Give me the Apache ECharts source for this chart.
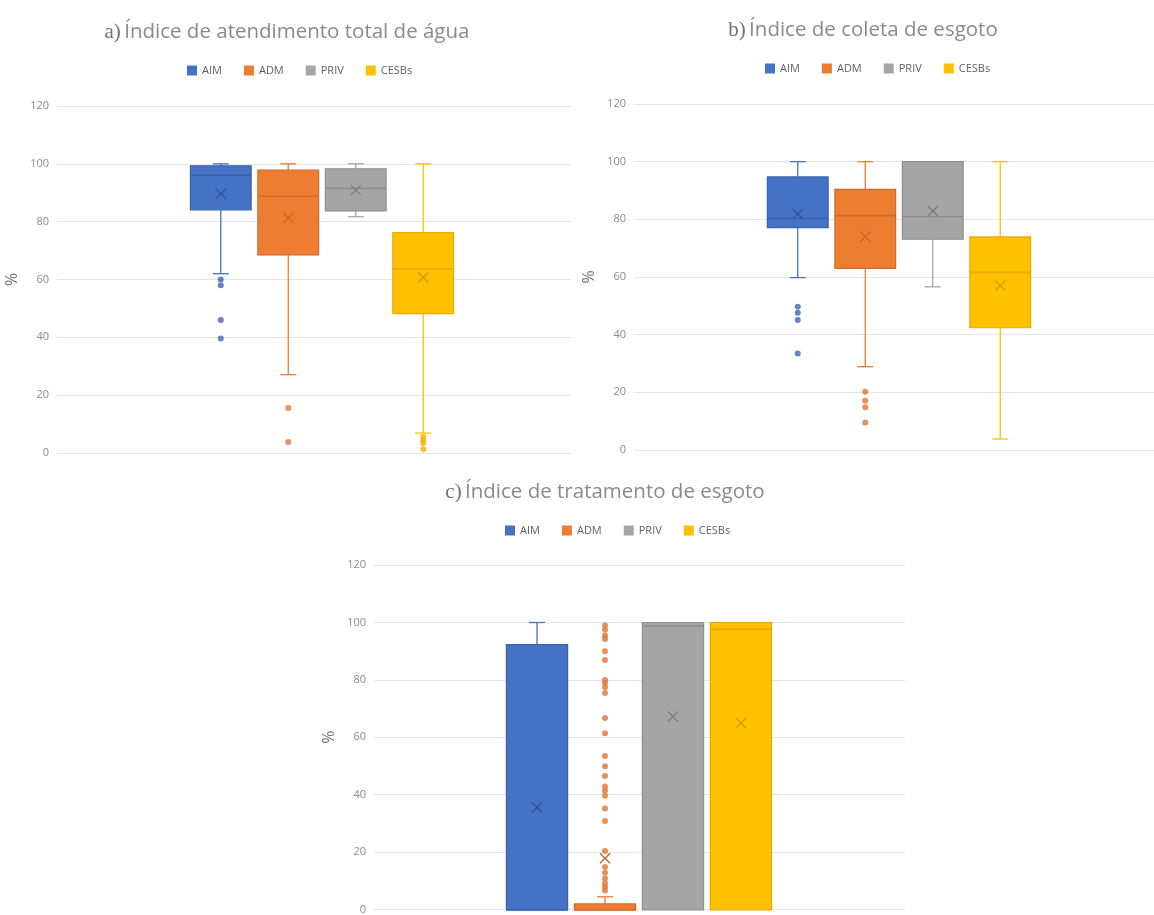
<!DOCTYPE html>
<html>
<head>
<meta charset="utf-8">
<script src="https://cdn.jsdelivr.net/npm/echarts@6/dist/echarts.min.js"></script>
<style>
  html, body { margin: 0; padding: 0; background: #ffffff; }
  #chart { width: 1154px; height: 915px; }
</style>
</head>
<body>
<div id="chart"></div>
<script>
// Operator groups shown in every panel
const categories = ['AIM', 'ADM', 'PRIV', 'CESBs'];
// Value axis ticks (%)
const yTicks = [0, 20, 40, 60, 80, 100, 120];

// a) Índice de atendimento total de água — [min, Q1, mediana, Q3, max]
const aguaBox = [
  [62.0, 84.1, 96.0, 99.3, 100],
  [27.1, 68.5, 88.8, 97.8, 100],
  [81.7, 83.7, 91.5, 98.3, 100],
  [6.9, 48.2, 63.7, 76.2, 100]
];
const aguaMean = [89.6, 81.3, 90.9, 60.7];
const aguaOutliers = [
  [60.0, 58.0, 46.0, 39.6],
  [15.6, 3.8],
  [],
  [5.6, 4.5, 3.4, 1.3]
];

// b) Índice de coleta de esgoto
const coletaBox = [
  [59.8, 77.1, 80.3, 94.7, 100],
  [28.9, 63.0, 81.3, 90.4, 100],
  [56.6, 73.1, 80.9, 100, 100],
  [3.8, 42.4, 61.6, 73.9, 100]
];
const coletaMean = [81.8, 74.0, 82.9, 57.0];
const coletaOutliers = [
  [49.7, 47.6, 45.1, 33.5],
  [20.2, 17.1, 14.8, 9.5],
  [],
  []
];

// c) Índice de tratamento de esgoto
const tratamentoBox = [
  [0, 0, 0, 92.3, 100],
  [0, 0, 0, 2.1, 4.6],
  [0, 0, 98.8, 100, 100],
  [0, 0, 97.6, 100, 100]
];
const tratamentoMean = [35.7, 18.0, 67.3, 65.0];
const tratamentoOutliers = [
  [],
  [99.0, 97.5, 95.5, 94.3, 90.0, 87.0, 80.0, 79.0, 77.5, 75.5, 66.8, 61.5, 53.6, 50.0,
   46.6, 43.0, 41.5, 39.7, 35.3, 31.0, 20.5, 15.0, 13.0, 11.0, 9.3, 8.0, 6.8],
  [],
  []
];

// Styling per group
const FILL = ['#4472C4', '#ED7D31', '#A5A5A5', '#FFC000'];
const EDGE = ['#3A63AC', '#D2692A', '#8E8E8E', '#E3AA00'];
const MEAN_MARK = ['#34508A', '#C0642C', '#7C7C7C', '#CC9A00'];
const DOT = ['#3F66B0', '#DF7432', '#999999', '#F0B400'];

const panels = [
  {
    box: aguaBox, mean: aguaMean, out: aguaOutliers,
    tag: 'a)', title: 'Índice de atendimento total de água', titleX: 287, titleY: 32,
    legendLeft: 187, legendTop: 65,
    plot: { left: 57, top: 106, width: 514, height: 347 },
    boxes: { left: 187, width: 270 }
  },
  {
    box: coletaBox, mean: coletaMean, out: coletaOutliers,
    tag: 'b)', title: 'Índice de coleta de esgoto', titleX: 863, titleY: 30,
    legendLeft: 765, legendTop: 63,
    plot: { left: 634, top: 104, width: 540, height: 346 },
    boxes: { left: 764, width: 270 }
  },
  {
    box: tratamentoBox, mean: tratamentoMean, out: tratamentoOutliers,
    tag: 'c)', title: 'Índice de tratamento de esgoto', titleX: 605, titleY: 492,
    legendLeft: 505, legendTop: 525,
    plot: { left: 374, top: 565, width: 531, height: 345 },
    boxes: { left: 503, width: 272 }
  }
];

const BOX_RATIO = 0.9;   // box width as a share of the category band
const CAP_HALF = 8;      // half width of whisker caps (px)
const MEAN_HALF = 5;     // half size of the mean cross (px)

function boxRenderer(ci) {
  return function (params, api) {
    const idx = api.value(0);
    const v = [1, 2, 3, 4, 5].map(function (d) { return api.value(d); });
    const mean = api.value(6);
    const band = api.size([1, 0])[0];
    const half = band * BOX_RATIO / 2;
    const pts = v.map(function (val) { return api.coord([idx, val]); });
    const cx = pts[0][0];
    const y = pts.map(function (p) { return p[1]; });
    const ym = api.coord([idx, mean])[1];
    const line = function (x1, y1, x2, y2, stroke, w) {
      return { type: 'line', shape: { x1: x1, y1: y1, x2: x2, y2: y2 }, style: { stroke: stroke, lineWidth: w } };
    };
    const kids = [];
    if (v[4] > v[3]) {
      kids.push(line(cx, y[4], cx, y[3], FILL[ci], 1.3));
      kids.push(line(cx - CAP_HALF, y[4], cx + CAP_HALF, y[4], FILL[ci], 1.3));
    }
    if (v[1] > v[0]) {
      kids.push(line(cx, y[1], cx, y[0], FILL[ci], 1.3));
      kids.push(line(cx - CAP_HALF, y[0], cx + CAP_HALF, y[0], FILL[ci], 1.3));
    }
    kids.push({
      type: 'rect',
      shape: { x: cx - half, y: y[3], width: half * 2, height: y[1] - y[3] },
      style: { fill: FILL[ci], stroke: EDGE[ci], lineWidth: 1.2 }
    });
    kids.push(line(cx - half, y[2], cx + half, y[2], EDGE[ci], 1.6));
    kids.push(line(cx - MEAN_HALF, ym - MEAN_HALF, cx + MEAN_HALF, ym + MEAN_HALF, MEAN_MARK[ci], 1.2));
    kids.push(line(cx - MEAN_HALF, ym + MEAN_HALF, cx + MEAN_HALF, ym - MEAN_HALF, MEAN_MARK[ci], 1.2));
    return { type: 'group', children: kids };
  };
}

const grid = [], xAxis = [], yAxis = [], series = [], legend = [], graphic = [];
const yMin = yTicks[0], yMax = yTicks[yTicks.length - 1], yStep = yTicks[1] - yTicks[0];

panels.forEach(function (p) {
  const gPlot = grid.length;
  grid.push({ left: p.plot.left, top: p.plot.top, width: p.plot.width, height: p.plot.height, containLabel: false });
  const gBox = grid.length;
  grid.push({ left: p.boxes.left, top: p.plot.top, width: p.boxes.width, height: p.plot.height, containLabel: false });

  xAxis.push({ gridIndex: gPlot, type: 'value', show: false, min: 0, max: 1 });
  yAxis.push({
    gridIndex: gPlot, type: 'value', min: yMin, max: yMax, interval: yStep,
    name: '%', nameLocation: 'middle', nameGap: 37, nameRotate: 90,
    nameTextStyle: { color: '#737373', fontSize: 16, fontFamily: 'Open Sans' },
    axisLine: { show: false }, axisTick: { show: false },
    axisLabel: { color: '#8a8a8a', fontSize: 11, fontFamily: 'Open Sans', margin: 8 },
    splitLine: { lineStyle: { color: '#e4e4e4', width: 1 } }
  });
  const xi = xAxis.length;
  xAxis.push({ gridIndex: gBox, type: 'category', data: categories, show: false, boundaryGap: true });
  const yi = yAxis.length;
  yAxis.push({ gridIndex: gBox, type: 'value', min: yMin, max: yMax, interval: yStep, show: false, splitLine: { show: false } });

  categories.forEach(function (name, ci) {
    const pts = p.out[ci].map(function (val) { return [ci, val]; });
    if (pts.length) {
      series.push({
        type: 'scatter', name: name, xAxisIndex: xi, yAxisIndex: yi,
        symbol: 'circle', symbolSize: 6, itemStyle: { color: DOT[ci] },
        data: pts, z: 3, silent: true
      });
    }
    series.push({
      type: 'custom', name: name, xAxisIndex: xi, yAxisIndex: yi,
      itemStyle: { color: FILL[ci] },
      encode: { x: 0, y: [1, 2, 3, 4, 5] },
      renderItem: boxRenderer(ci),
      data: [[ci].concat(p.box[ci], [p.mean[ci]])],
      z: 2, silent: true
    });
  });

  legend.push({
    left: p.legendLeft, top: p.legendTop, padding: 0,
    itemWidth: 10, itemHeight: 10, itemGap: 22,
    icon: 'rect', selectedMode: false,
    textStyle: { color: '#5f5f5f', fontSize: 11, fontFamily: 'Open Sans' },
    data: categories.map(function (name, ci) {
      return { name: name, itemStyle: { color: FILL[ci], opacity: 1, borderWidth: 0 } };
    })
  });

  graphic.push({
    type: 'text', x: p.titleX, y: p.titleY,
    style: {
      text: '{s|' + p.tag + '} {t|' + p.title + '}',
      align: 'center', verticalAlign: 'middle',
      rich: {
        s: { fontFamily: 'Liberation Serif', fontSize: 21, fill: '#727272' },
        t: { fontFamily: 'Open Sans', fontSize: 20.5, fill: '#8a8a8a' }
      }
    }
  });
});

const chart = echarts.init(document.getElementById('chart'), null, { renderer: 'canvas' });
chart.setOption({
  animation: false,
  backgroundColor: '#ffffff',
  grid: grid, xAxis: xAxis, yAxis: yAxis,
  legend: legend, series: series, graphic: graphic
});
</script>
</body>
</html>
